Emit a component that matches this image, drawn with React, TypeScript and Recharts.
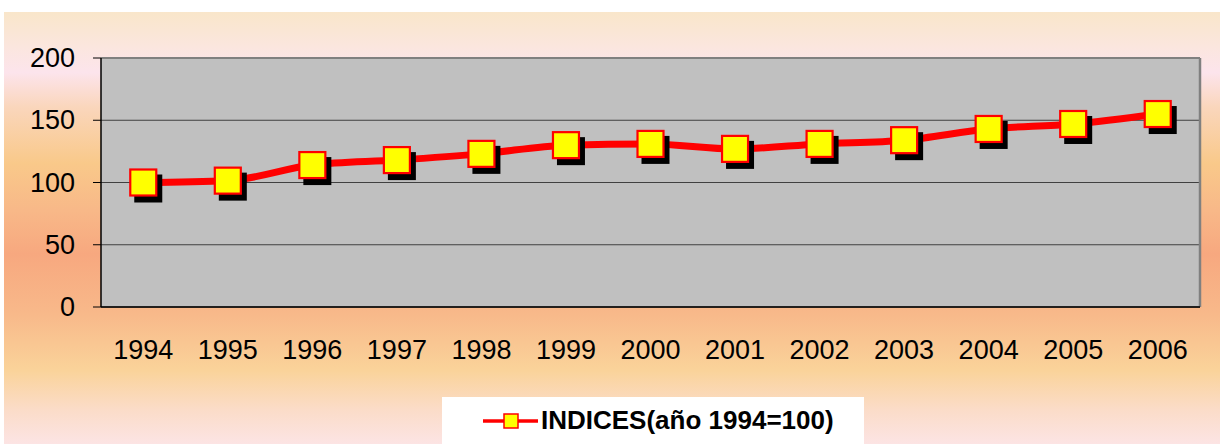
import React from 'react';
import { LineChart, Line, XAxis, YAxis, CartesianGrid, Legend, ReferenceLine } from 'recharts';

const years = ['1994', '1995', '1996', '1997', '1998', '1999', '2000', '2001', '2002', '2003', '2004', '2005', '2006'];
const indices = [100, 101.5, 114, 118, 123, 130, 131, 127, 131, 134, 143, 147, 155];
const yTicks = [0, 50, 100, 150, 200];
const seriesName = 'INDICES(año 1994=100)';

const data = years.map((y, i) => ({ idx: i, year: y, value: indices[i] }));
const labelTicks = years.map((_, i) => i);
const boundaryTicks = [...years.map((_, i) => i - 0.5), years.length - 0.5];
const xDomain = [-0.5, years.length - 0.5];

const FONT = '"Liberation Sans", Arial, sans-serif';

const SquareDot = (props: any) => {
  const { cx, cy } = props;
  if (cx == null || cy == null) return null;
  return (
    <g>
      <rect x={cx - 14 + 5} y={cy - 14 + 6} width={28} height={28} fill="#000" />
      <rect x={cx - 13} y={cy - 13} width={26} height={26} fill="#FFFF00" stroke="#FF0000" strokeWidth={2.2} />
    </g>
  );
};

const XLabel = (props: any) => {
  const { x, y, payload } = props;
  return (
    <text x={x} y={y + 35} textAnchor="middle" dominantBaseline="central" fontSize={27} fontFamily={FONT} fill="#000">
      {years[payload.value]}
    </text>
  );
};

const YLabel = (props: any) => {
  const { x, y, payload } = props;
  return (
    <text x={x} y={y} textAnchor="end" dominantBaseline="central" fontSize={27} fontFamily={FONT} fill="#000">
      {payload.value}
    </text>
  );
};

const LegendBox = () => (
  <div style={{ width: 422, height: 47, background: '#fff', display: 'flex', alignItems: 'center', boxSizing: 'border-box', paddingLeft: 41 }}>
    <svg width={56} height={20} style={{ display: 'block' }}>
      <line x1={0} y1={10} x2={55} y2={10} stroke="#FF0000" strokeWidth={3.5} />
      <rect x={21} y={3} width={14} height={14} fill="#FFFF00" stroke="#FF0000" strokeWidth={1.5} />
    </svg>
    <span style={{ fontFamily: FONT, fontWeight: 'bold', fontSize: 26, color: '#000', marginLeft: 2, whiteSpace: 'nowrap' }}>{seriesName}</span>
  </div>
);

export default function App() {
  return (
    <div style={{ position: 'absolute', left: 0, top: 0, width: 1220, height: 444, background: '#fff' }}>
      <div
        style={{
          position: 'absolute',
          left: 4,
          top: 12,
          width: 1216,
          height: 432,
          background:
            'linear-gradient(to bottom, #F9E6CA 0%, #FBE6DE 8%, #FCE4EC 14%, #FAD6BC 22%, #F9C98A 35%, #F8B888 46%, #F7A87F 56%, #F8B98A 70%, #FAD39A 83%, #FBDCC8 92%, #FCE4E4 100%)',
        }}
      />
      <div style={{ position: 'absolute', left: 0, top: 0 }}>
        <LineChart width={1220} height={444} data={data} margin={{ top: 58, right: 20, bottom: 0, left: 0 }}>
          <CartesianGrid fill="#C0C0C0" vertical={false} horizontal={true} stroke="#404040" strokeWidth={1} yAxisId="y" xAxisId="b" />
          <XAxis
            xAxisId="b"
            type="number"
            dataKey="idx"
            domain={xDomain}
            ticks={boundaryTicks}
            tick={false}
            tickSize={8}
            height={8}
            axisLine={{ stroke: '#000', strokeWidth: 1.5 }}
            tickLine={{ stroke: '#000', strokeWidth: 1 }}
            allowDecimals
          />
          <XAxis
            xAxisId="x"
            type="number"
            dataKey="idx"
            domain={xDomain}
            ticks={labelTicks}
            tick={<XLabel />}
            tickSize={0}
            tickMargin={0}
            height={82}
            axisLine={false}
            tickLine={false}
          />
          <YAxis
            yAxisId="y"
            domain={[0, 200]}
            ticks={yTicks}
            width={101}
            tickSize={8}
            tickMargin={18}
            tick={<YLabel />}
            axisLine={{ stroke: '#000', strokeWidth: 1.5 }}
            tickLine={{ stroke: '#000', strokeWidth: 1 }}
          />
          <ReferenceLine yAxisId="y" xAxisId="x" y={200} stroke="#808080" strokeWidth={2} />
          <ReferenceLine yAxisId="y" xAxisId="x" x={years.length - 0.5} stroke="#808080" strokeWidth={2.5} />
          <Line
            xAxisId="b"
            yAxisId="y"
            dataKey="value"
            stroke="none"
            dot={false}
            activeDot={false}
            legendType="none"
            isAnimationActive={false}
          />
          <Line
            xAxisId="x"
            yAxisId="y"
            type="monotone"
            dataKey="value"
            name={seriesName}
            stroke="#FF0000"
            strokeWidth={7}
            dot={<SquareDot />}
            activeDot={false}
            isAnimationActive={false}
          />
          <Legend verticalAlign="bottom" content={<LegendBox />} wrapperStyle={{ left: 442, width: 422, bottom: 0 }} />
        </LineChart>
      </div>
    </div>
  );
}
